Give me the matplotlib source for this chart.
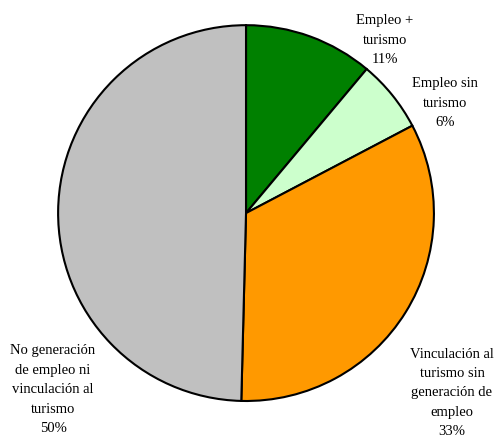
import matplotlib.pyplot as plt

categorias = ["Empleo +\nturismo", "Empleo sin\nturismo",
              "Vinculación al\nturismo sin\ngeneración de\nempleo",
              "No generación\nde empleo ni\nvinculación al\nturismo"]
valores = [11.1, 6.2, 33.1, 49.6]
porcentajes = ["11%", "6%", "33%", "50%"]
colores = ["#008000", "#CCFFCC", "#FF9900", "#C0C0C0"]
# posiciones de las etiquetas (coordenadas del eje, radio = 1)
pos_etiquetas = [(0.74, 0.92), (1.06, 0.585), (1.096, -0.957), (-1.027, -0.94)]

fig = plt.figure(figsize=(4.96, 4.38), dpi=100)
ax = fig.add_axes([0.117, 0.0845, 0.758, 0.858])
ax.pie(valores, colors=colores, startangle=90, counterclock=False,
       wedgeprops=dict(edgecolor="black", linewidth=1.5))
ax.set_xlim(-1, 1)
ax.set_ylim(-1, 1)
ax.set_aspect("equal")
ax.axis("off")

for cat, pct, (x, y) in zip(categorias, porcentajes, pos_etiquetas):
    ax.text(x, y, f"{cat}\n{pct}", ha="center", va="center",
            fontsize=10.5, family="Liberation Serif", linespacing=1.64)

fig.savefig("out.png", dpi=100)
